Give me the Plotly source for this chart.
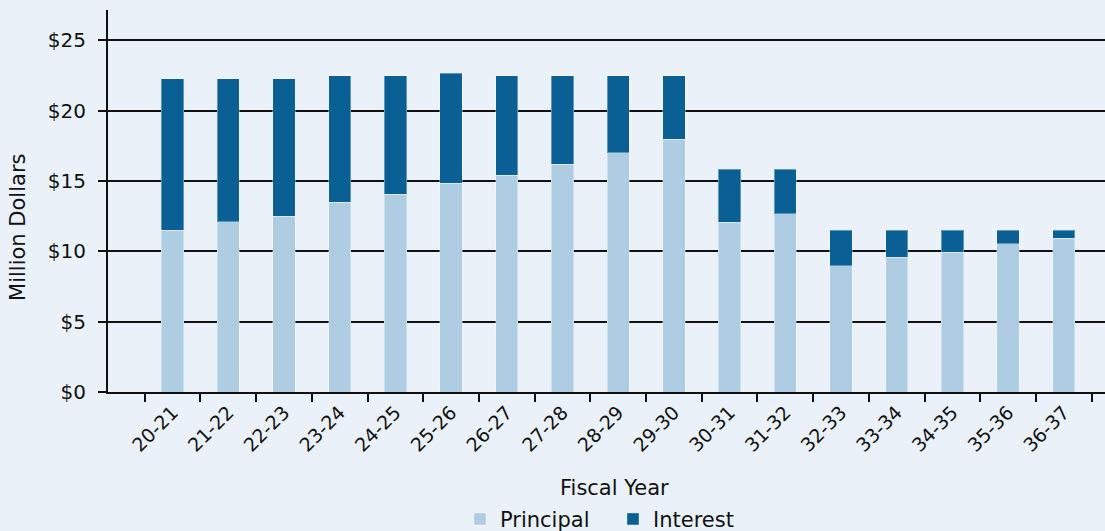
import plotly.graph_objects as go

# Debt service schedule by fiscal year (million dollars)
fiscal_years = ["20-21", "21-22", "22-23", "23-24", "24-25", "25-26", "26-27", "27-28",
                "28-29", "29-30", "30-31", "31-32", "32-33", "33-34", "34-35", "35-36", "36-37"]
principal = [11.51, 12.10, 12.50, 13.48, 14.05, 14.83, 15.42, 16.20, 16.99, 17.96,
             12.08, 12.67, 8.98, 9.57, 9.95, 10.54, 10.92]
interest = [10.76, 10.17, 9.77, 8.98, 8.41, 7.82, 7.04, 6.26, 5.47, 4.50,
            3.75, 3.16, 2.53, 1.94, 1.56, 0.97, 0.59]
y_ticks = [0, 5, 10, 15, 20, 25]
y_tick_labels = ["$0", "$5", "$10", "$15", "$20", "$25"]

FONT = "DejaVu Sans"
INK = "#111111"
BG = "#EAF1F8"
LIGHT = "#AFCDE2"
DARK = "#0A6094"

fig = go.Figure()
fig.add_trace(go.Bar(x=fiscal_years, y=principal, name="Principal",
                     marker=dict(color=LIGHT, line=dict(color="rgba(255,255,255,0.35)", width=1))))
fig.add_trace(go.Bar(x=fiscal_years, y=interest, name="Interest",
                     marker=dict(color=DARK, line=dict(color="rgba(255,255,255,0.35)", width=1))))

fig.update_layout(
    barmode="stack",
    bargap=0.6,
    width=1105, height=531,
    margin=dict(l=108, r=0, t=10, b=139, autoexpand=False),
    paper_bgcolor=BG, plot_bgcolor=BG,
    font=dict(family=FONT, size=20, color=INK),
    showlegend=True,
    legend=dict(orientation="h", x=0.5065, xanchor="center",
                yref="container", y=0.022, yanchor="middle",
                font=dict(family=FONT, size=21, color=INK),
                itemwidth=30, entrywidth=108, traceorder="normal",
                bgcolor="rgba(0,0,0,0)"),
    xaxis=dict(
        range=[-1.16, 16.74],
        automargin=False,
        showline=True, linecolor=INK, linewidth=2,
        ticks="outside", ticklen=8, tickwidth=2, tickcolor=INK,
        tickson="boundaries", tickangle=-45,
        tickfont=dict(family=FONT, size=19, color=INK),
        showgrid=False,
    ),
    yaxis=dict(
        range=[0, 27.15],
        automargin=False,
        tickvals=y_ticks, ticktext=y_tick_labels,
        showline=True, linecolor=INK, linewidth=2,
        ticks="outside", ticklen=8, tickwidth=2, tickcolor=INK,
        ticklabelstandoff=8,
        showgrid=True, gridcolor=INK, gridwidth=1.5,
        zeroline=False,
        tickfont=dict(family=FONT, size=20, color=INK),
    ),
)

fig.add_annotation(text="Fiscal Year", xref="paper", yref="paper",
                   x=0.508, y=-0.252, xanchor="center", yanchor="middle",
                   showarrow=False, font=dict(family=FONT, size=21, color=INK))
fig.add_annotation(text="Million Dollars", xref="paper", yref="paper",
                   x=-0.0903, y=0.432, xanchor="center", yanchor="middle", textangle=-90,
                   showarrow=False, font=dict(family=FONT, size=21, color=INK))

fig.write_html("out.html")
